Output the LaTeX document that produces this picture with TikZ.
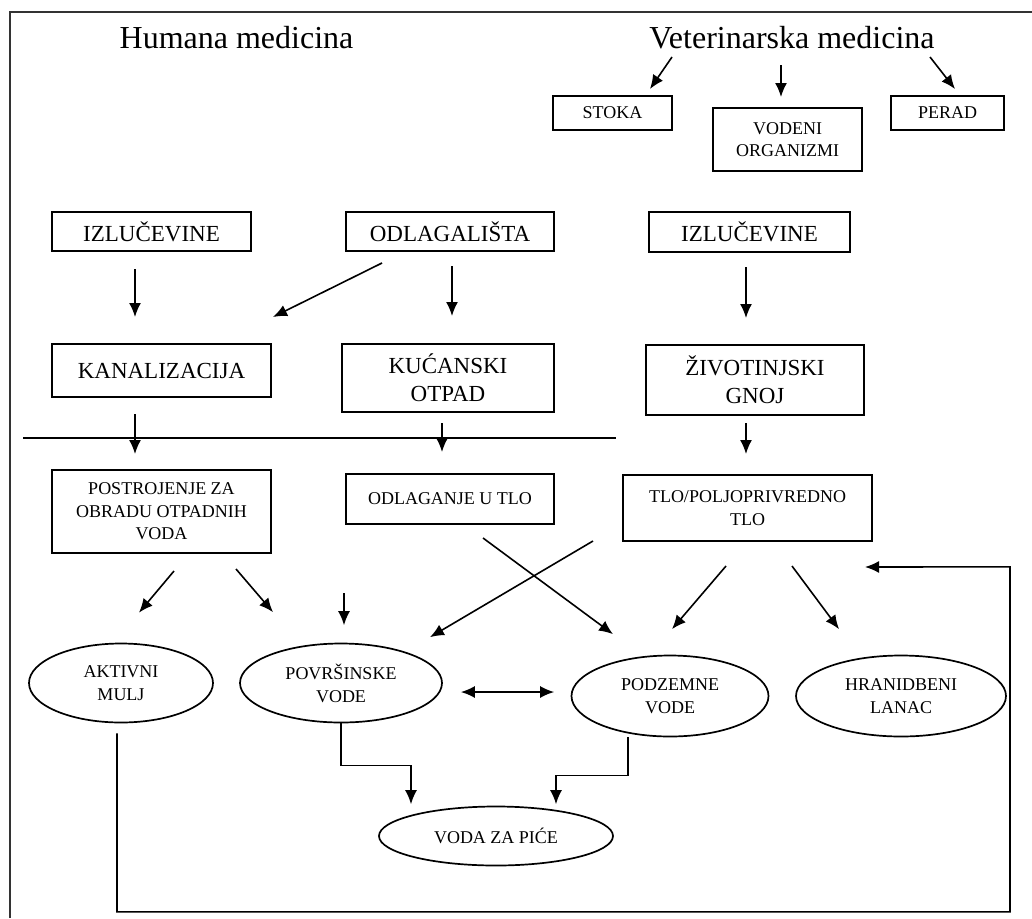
\documentclass[tikz,border=0pt]{standalone}
\usepackage{fontspec}
\setmainfont{Liberation Serif}
\usetikzlibrary{arrows.meta,shapes.geometric,calc}

\tikzset{
	box/.style={draw, line width=2pt, inner sep=0pt, align=center, font=\fontsize{23}{28}\selectfont},
	sbox/.style={box, font=\fontsize{18}{22.5}\selectfont},
	oval/.style={draw, ellipse, line width=1.7pt, inner sep=0pt, align=center, font=\fontsize{18}{23}\selectfont},
	arr/.style={->, >={Latex[length=14pt,width=12pt]}, line width=1.6pt},
	title/.style={font=\fontsize{32}{36}\selectfont},
}

\begin{document}
\begin{tikzpicture}[x=1pt,y=-1pt]
	\useasboundingbox (0,0) rectangle (1032,918);
	\draw[line width=2.6pt, black!80] (10,918) -- (10,12) -- (1032,12);

	% naslovi
	\node[title] (hum) at (236.5,38) {Humana medicina};
	\node[title] (vet) at (792,38) {Veterinarska medicina};

	% izvori
	\node[sbox, minimum width=119pt, minimum height=34pt] (stoka) at (612.5,113) {STOKA};
	\node[sbox, minimum width=149pt, minimum height=63pt] (vodeni) at (787.5,139.5) {VODENI\\ORGANIZMI};
	\node[sbox, minimum width=113pt, minimum height=34pt] (perad) at (947.5,113) {PERAD};
	\node[box, minimum width=199pt, minimum height=39pt] (izlH) at (151.5,231.5) {IZLUČEVINE};
	\node[box, minimum width=208pt, minimum height=39pt] (odlag) at (450,231.5) {ODLAGALIŠTA};
	\node[box, minimum width=201pt, minimum height=40pt] (izlV) at (749.5,232) {IZLUČEVINE};
	\node[box, minimum width=219pt, minimum height=53pt] (kanal) at (161.5,370.5) {KANALIZACIJA};
	\node[box, minimum width=212pt, minimum height=68pt] (kucan) at (448,378) {KUĆANSKI\\OTPAD};
	\node[box, minimum width=218pt, minimum height=70pt] (gnoj) at (755,380) {ŽIVOTINJSKI\\GNOJ};

	\draw[line width=1.8pt] (23,438) -- (616,438);

	\node[sbox, minimum width=219pt, minimum height=83pt] (postr) at (161.5,511.5) {POSTROJENJE ZA\\OBRADU OTPADNIH\\VODA};
	\node[sbox, minimum width=208pt, minimum height=50pt] (odltlo) at (450,499) {ODLAGANJE U TLO};
	\node[sbox, minimum width=249pt, minimum height=66pt] (tlo) at (747.5,508) {TLO/POLJOPRIVREDNO\\TLO};

	% vode
	\node[oval, minimum width=184pt, minimum height=79pt] (aktiv) at (121,683) {AKTIVNI\\MULJ};
	\node[oval, minimum width=202pt, minimum height=79pt] (povrs) at (341,683) {POVRŠINSKE\\VODE};
	\node[oval, minimum width=197pt, minimum height=81pt] (podz) at (670,696) {PODZEMNE\\VODE};
	\node[oval, minimum width=210pt, minimum height=81pt] (hran) at (901,696) {HRANIDBENI\\LANAC};
	\node[oval, minimum width=234pt, minimum height=59pt] (voda) at (496,836) {VODA ZA PIĆE};
	\coordinate (ulaz) at (344,593);

	\path[arr]
	($(vet.center)+(-120,19)$) edge ($(stoka.north)+(37.5,-6)$)
	($(vet.center)+(-11,27)$) edge ($(vodeni.north)+(-6.5,-10)$)
	($(vet.center)+(138,19)$) edge ($(perad.north)+(7.5,-6)$)
	($(izlH.south)+(-16.5,17)$) edge ($(kanal.north)+(-26.5,-26)$)
	($(odlag.south)+(-68,11)$) edge ($(kanal.north east)+(1,-26)$)
	($(odlag.south)+(2,14)$) edge ($(kucan.north)+(4,-27)$)
	($(izlV.south)+(-3.5,14)$) edge ($(gnoj.north)+(-9,-26)$)
	($(kanal.south)+(-26.5,16)$) edge ($(postr.north)+(-26.5,-15)$)
	($(kucan.south)+(-6,10)$) edge ($(odltlo.north)+(-8,-21)$)
	($(gnoj.south)+(-9,7)$) edge ($(tlo.north)+(-1.5,-20)$)
	($(postr.south)+(12.5,17)$) edge ($(aktiv.north)+(18,-30)$)
	($(postr.south)+(74.5,15)$) edge ($(povrs.north)+(-68,-30.5)$)
	(ulaz) edge ($(povrs.north)+(3,-17.5)$)
	($(tlo.south west)+(-29,-1)$) edge ($(povrs.north)+(89,-5.5)$)
	($(odltlo.south)+(33,13)$) edge ($(podz.north)+(-57,-20.5)$)
	($(tlo.south)+(-21.5,24)$) edge ($(podz.north)+(2,-25.5)$)
	($(tlo.south)+(44.5,24)$) edge ($(hran.north)+(-62,-25.5)$)
	;
	\draw[arr, <->] ($(povrs.east)+(18,9)$) -- ($(podz.west)+(-16.5,-4)$);

	\draw[arr] (povrs.south) -- ++(0,42) -| ($(voda.north)+(-85,-1.5)$);
	\draw[arr] ($(podz.south)+(-42,0)$) -- ++(0,38) -| ($(voda.north)+(60,-1.5)$);
	\draw[arr] ($(aktiv.south)+(-4,10)$) -- ++(0,178.5) -| ++(893,-345) -- ($(tlo.south east)+(-8,25)$);
\end{tikzpicture}
\end{document}
